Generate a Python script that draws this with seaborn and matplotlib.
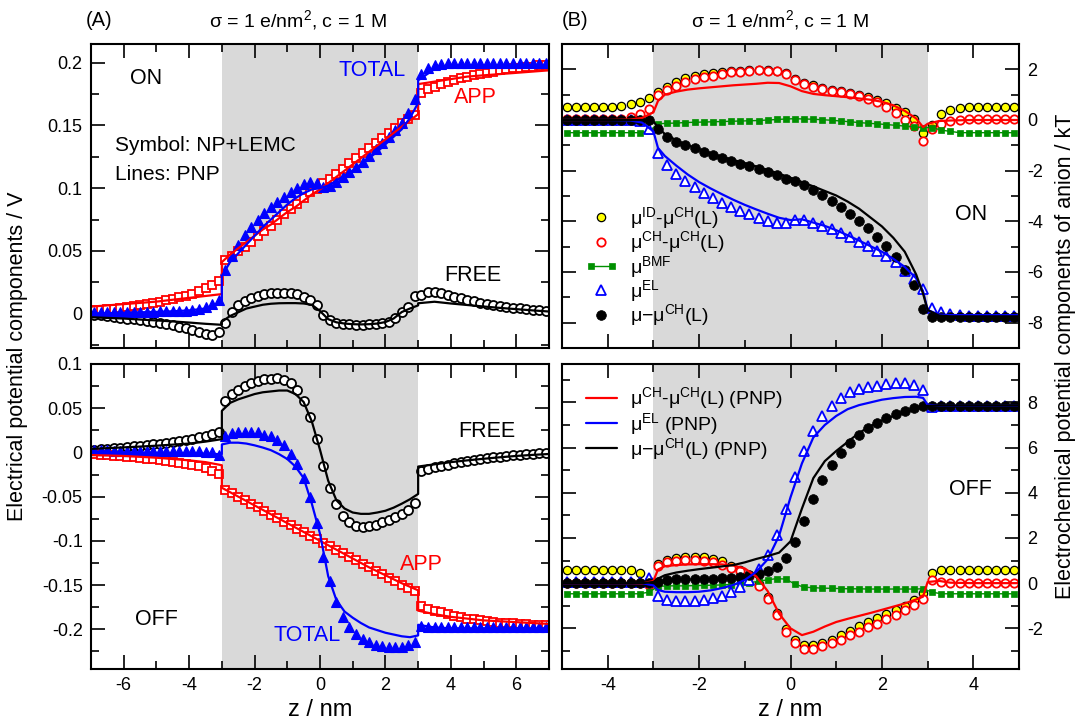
import matplotlib

matplotlib.use("Agg")
import matplotlib.pyplot as plt
import numpy as np
import seaborn as sns
from matplotlib.legend_handler import HandlerLine2D
from matplotlib.ticker import FuncFormatter, MultipleLocator

# --- data: panel A (electrical potential, V) ---------------------------
ZA_MARK = np.round(np.arange(-6.9, 7.0, 0.2), 1)
ZA_LINE = [-7, -6.5, -6, -5.5, -5, -4.5, -4, -3.5, -3,
           -3, -2.75, -2.5, -2.25, -2, -1.75, -1.5, -1.25, -1, -0.75, -0.5, -0.25, 0,
           0.25, 0.5, 0.75, 1, 1.25, 1.5, 1.75, 2, 2.25, 2.5, 2.75, 3,
           3, 3.5, 4, 4.5, 5, 5.5, 6, 6.5, 7]

A_ON_APP_SYM = [0.0025, 0.003, 0.0035, 0.004, 0.0048, 0.0055, 0.0062, 0.007, 0.0078, 0.0086,
                0.0095, 0.0105, 0.0115, 0.0128, 0.014, 0.0158, 0.0178, 0.0205, 0.0225, 0.026,
                0.043, 0.046, 0.050, 0.053, 0.057, 0.062, 0.066, 0.070, 0.075, 0.079,
                0.083, 0.087, 0.092, 0.097, 0.099, 0.104, 0.107, 0.111, 0.115, 0.120,
                0.124, 0.128, 0.132, 0.136, 0.140, 0.144, 0.148, 0.152, 0.155, 0.158,
                0.176, 0.179, 0.181, 0.183, 0.185, 0.186, 0.188, 0.189, 0.190, 0.191,
                0.192, 0.193, 0.194, 0.195, 0.1955, 0.196, 0.197, 0.197, 0.198, 0.198]
A_ON_TOT_SYM = [0.0012, 0.0012, 0.0013, 0.0013, 0.0014, 0.0014, 0.0015, 0.0015, 0.0016, 0.0016,
                0.0017, 0.0018, 0.0019, 0.002, 0.0022, 0.0027, 0.0035, 0.005, 0.0072, 0.011,
                0.035, 0.046, 0.055, 0.063, 0.069, 0.075, 0.080, 0.085, 0.089, 0.093,
                0.097, 0.100, 0.103, 0.105, 0.104, 0.101, 0.102, 0.105, 0.109, 0.113,
                0.117, 0.121, 0.126, 0.131, 0.136, 0.141, 0.146, 0.152, 0.160, 0.171,
                0.191, 0.196, 0.198, 0.199, 0.2, 0.2, 0.2, 0.2, 0.2, 0.2,
                0.2, 0.2, 0.2, 0.2, 0.2, 0.2, 0.2, 0.2, 0.2, 0.2]
A_ON_FREE_SYM = [-0.001, -0.0015, -0.002, -0.0027, -0.0033, -0.004, -0.0047, -0.0055, -0.0062, -0.007,
                 -0.0078, -0.0087, -0.0095, -0.0105, -0.0115, -0.013, -0.0145, -0.016, -0.0168, -0.0145,
                 -0.0075, 0.001, 0.0067, 0.010, 0.0125, 0.0143, 0.0155, 0.016, 0.0165, 0.0165,
                 0.016, 0.0152, 0.0135, 0.011, 0.007, -0.001, -0.005, -0.0072, -0.0082, -0.0086,
                 -0.0088, -0.0088, -0.0087, -0.0085, -0.0078, -0.0065, -0.0035, 0.001, 0.0056, 0.0136,
                 0.0145, 0.0172, 0.0175, 0.0165, 0.015, 0.0135, 0.012, 0.0108, 0.0097, 0.0087,
                 0.0078, 0.007, 0.0062, 0.0055, 0.0048, 0.0042, 0.0036, 0.003, 0.0025, 0.002]
A_ON_APP_PNP = [0.0055, 0.0065, 0.0075, 0.0085, 0.0095, 0.011, 0.0125, 0.014, 0.0155,
                0.041, 0.047, 0.052, 0.057, 0.062, 0.067, 0.071, 0.076, 0.081, 0.085, 0.090, 0.095, 0.099,
                0.104, 0.109, 0.114, 0.119, 0.124, 0.129, 0.134, 0.139, 0.144, 0.149, 0.154, 0.159,
                0.183, 0.185, 0.187, 0.189, 0.190, 0.191, 0.192, 0.193, 0.194]
A_ON_TOT_PNP = [0.0, 0.0003, 0.0006, 0.001, 0.0013, 0.0018, 0.0025, 0.004, 0.009,
                0.030, 0.041, 0.048, 0.055, 0.062, 0.069, 0.075, 0.081, 0.087, 0.092, 0.096, 0.099, 0.100,
                0.102, 0.106, 0.110, 0.114, 0.119, 0.124, 0.129, 0.135, 0.141, 0.147, 0.156, 0.168,
                0.186, 0.195, 0.197, 0.198, 0.198, 0.198, 0.198, 0.198, 0.198]
A_ON_FREE_PNP = [-0.003, -0.0035, -0.004, -0.0048, -0.0055, -0.0063, -0.0072, -0.0082, -0.009,
                 -0.0065, -0.002, 0.001, 0.004, 0.0055, 0.007, 0.0078, 0.0082, 0.0083, 0.0083, 0.008, 0.007, 0.002,
                 -0.0045, -0.007, -0.008, -0.0085, -0.0087, -0.0085, -0.008, -0.0068, -0.004, 0.0012, 0.004, 0.0065,
                 0.0082, 0.0094, 0.008, 0.0068, 0.0056, 0.0045, 0.0035, 0.0025, 0.0016]

A_OFF_APP_SYM = [-0.002, -0.0027, -0.0033, -0.004, -0.0045, -0.005, -0.0057, -0.0064, -0.007, -0.0078,
                 -0.0086, -0.0095, -0.0104, -0.0115, -0.0127, -0.014, -0.0155, -0.0175, -0.0205, -0.024,
                 -0.042, -0.046, -0.050, -0.054, -0.058, -0.062, -0.066, -0.0705, -0.0745, -0.0785,
                 -0.0825, -0.0865, -0.0905, -0.0945, -0.098, -0.102, -0.106, -0.110, -0.114, -0.118,
                 -0.122, -0.126, -0.130, -0.134, -0.138, -0.1415, -0.1455, -0.1495, -0.153, -0.157,
                 -0.174, -0.177, -0.179, -0.181, -0.183, -0.185, -0.1865, -0.188, -0.189, -0.190,
                 -0.191, -0.192, -0.1925, -0.193, -0.1935, -0.194, -0.1945, -0.195, -0.195, -0.1955]
A_OFF_TOT_SYM = [0.0022, 0.0022, 0.0022, 0.0021, 0.0021, 0.0021, 0.002, 0.002, 0.002, 0.002,
                 0.0019, 0.0019, 0.0018, 0.0017, 0.0016, 0.0014, 0.0012, 0.0008, 0.0, -0.0025,
                 0.018, 0.0214, 0.023, 0.0233, 0.0233, 0.023, 0.020, 0.018, 0.0143, 0.0086,
                 -0.0015, -0.0128, -0.029, -0.051, -0.080, -0.118, -0.146, -0.169, -0.186, -0.197,
                 -0.2055, -0.2105, -0.215, -0.218, -0.2195, -0.2205, -0.2205, -0.22, -0.218, -0.214,
                 -0.196, -0.197, -0.197, -0.197, -0.197, -0.197, -0.197, -0.197, -0.197, -0.197,
                 -0.197, -0.197, -0.197, -0.197, -0.197, -0.197, -0.197, -0.197, -0.197, -0.197]
A_OFF_FREE_SYM = [0.003, 0.0035, 0.004, 0.0045, 0.005, 0.006, 0.0068, 0.0075, 0.008, 0.009,
                  0.010, 0.011, 0.012, 0.013, 0.014, 0.015, 0.017, 0.019, 0.021, 0.023,
                  0.0586, 0.066, 0.0707, 0.075, 0.078, 0.0808, 0.0827, 0.0834, 0.084, 0.082,
                  0.079, 0.0707, 0.0586, 0.0405, 0.015, -0.0157, -0.0402, -0.058, -0.0716, -0.0787,
                  -0.0829, -0.0844, -0.0836, -0.0817, -0.079, -0.076, -0.073, -0.0696, -0.0655, -0.0572,
                  -0.021, -0.019, -0.017, -0.0155, -0.014, -0.0125, -0.011, -0.0098, -0.0085, -0.0075,
                  -0.0065, -0.0055, -0.0047, -0.004, -0.0033, -0.0027, -0.002, -0.0015, -0.001, -0.0005]
A_OFF_APP_PNP = [-0.003, -0.0035, -0.004, -0.005, -0.006, -0.0075, -0.009, -0.011, -0.0145,
                 -0.040, -0.045, -0.050, -0.055, -0.060, -0.065, -0.070, -0.075, -0.080, -0.085, -0.090, -0.095, -0.100,
                 -0.105, -0.110, -0.115, -0.120, -0.125, -0.130, -0.1345, -0.139, -0.1435, -0.148, -0.152, -0.156,
                 -0.179, -0.183, -0.186, -0.188, -0.190, -0.191, -0.192, -0.193, -0.194]
A_OFF_TOT_PNP = [0.0, 0.0, 0.0, -0.0003, -0.0005, -0.0008, -0.001, -0.0015, -0.002,
                 0.009, 0.011, 0.011, 0.010, 0.008, 0.0055, 0.0025, -0.002, -0.0075, -0.016, -0.029, -0.058, -0.092,
                 -0.140, -0.167, -0.180, -0.187, -0.193, -0.198, -0.201, -0.204, -0.206, -0.208, -0.209, -0.207,
                 -0.195, -0.198, -0.199, -0.199, -0.199, -0.199, -0.199, -0.199, -0.199]
A_OFF_FREE_PNP = [0.004, 0.0048, 0.0057, 0.0066, 0.0076, 0.0088, 0.010, 0.0122, 0.015,
                  0.047, 0.056, 0.060, 0.063, 0.066, 0.068, 0.069, 0.070, 0.070, 0.066, 0.057, 0.035, 0.003,
                  -0.032, -0.054, -0.0635, -0.068, -0.0695, -0.0695, -0.068, -0.066, -0.0625, -0.058, -0.053, -0.047,
                  -0.016, -0.0135, -0.011, -0.009, -0.0072, -0.0055, -0.004, -0.0028, -0.0018]

# --- data: panel B (electrochemical potential of anion, kT) -------------
ZB_MARK = np.round(np.arange(-4.9, 5.0, 0.2), 1)
ZB_LINE = [-5, -4.5, -4, -3.5, -3.25, -3, -2.9,
           -2.75, -2.5, -2.25, -2, -1.75, -1.5, -1.25, -1, -0.75, -0.5, -0.25, 0,
           0.25, 0.5, 0.75, 1, 1.25, 1.5, 1.75, 2, 2.25, 2.5, 2.75,
           2.9, 3, 3.25, 3.5, 4, 4.5, 5]

B_ON_ID = [0.5, 0.5, 0.5, 0.5, 0.5, 0.5, 0.55, 0.62, 0.72, 0.85,
           1.12, 1.32, 1.49, 1.65, 1.75, 1.81, 1.85, 1.89, 1.92, 1.94,
           1.96, 1.97, 1.96, 1.94, 1.84, 1.6, 1.46, 1.37, 1.27, 1.2,
           1.15, 1.06, 1.0, 0.9, 0.79, 0.66, 0.49, 0.33, 0.04, -0.53,
           -0.2, 0.24, 0.4, 0.47, 0.5, 0.5, 0.5, 0.5, 0.5, 0.5]
B_ON_CH = [0.02, 0.02, 0.02, 0.02, 0.02, 0.02, 0.05, 0.13, 0.24, 0.45,
           0.97, 1.19, 1.36, 1.49, 1.61, 1.68, 1.75, 1.81, 1.88, 1.9,
           1.94, 1.96, 1.94, 1.92, 1.81, 1.56, 1.42, 1.32, 1.22, 1.15,
           1.1, 1.02, 0.93, 0.83, 0.73, 0.53, 0.29, 0.01, -0.25, -0.82,
           -0.37, -0.16, -0.04, 0.0, 0.02, 0.02, 0.02, 0.02, 0.02, 0.02]
B_ON_BMF = [-0.5, -0.5, -0.5, -0.5, -0.5, -0.5, -0.5, -0.5, -0.5, -0.45,
            -0.15, -0.13, -0.12, -0.1, -0.09, -0.08, -0.07, -0.06, -0.05, -0.04,
            -0.03, -0.02, 0.0, 0.02, 0.04, 0.05, 0.04, 0.03, 0.01, -0.01,
            -0.04, -0.07, -0.1, -0.13, -0.15, -0.18, -0.21, -0.24, -0.27, -0.3,
            -0.3, -0.4, -0.45, -0.5, -0.5, -0.5, -0.5, -0.5, -0.5, -0.5]
B_ON_EL = [0.0, 0.0, 0.0, 0.0, 0.0, 0.0, 0.0, 0.0, -0.03, -0.37,
           -1.32, -1.79, -2.12, -2.42, -2.65, -2.87, -3.07, -3.27, -3.44, -3.6,
           -3.73, -3.86, -3.97, -4.07, -4.07, -3.93, -3.94, -4.06, -4.17, -4.3,
           -4.46, -4.63, -4.8, -4.99, -5.16, -5.36, -5.62, -5.95, -6.28, -6.68,
           -7.41, -7.57, -7.66, -7.7, -7.72, -7.73, -7.74, -7.75, -7.75, -7.75]
B_ON_TOT = [0.0, 0.0, 0.0, 0.0, 0.0, 0.0, 0.0, 0.0, 0.0, 0.0,
            -0.37, -0.66, -0.86, -0.99, -1.12, -1.26, -1.39, -1.5, -1.61, -1.72,
            -1.83, -1.92, -2.05, -2.18, -2.32, -2.42, -2.58, -2.78, -2.98, -3.2,
            -3.44, -3.7, -3.99, -4.26, -4.6, -4.96, -5.42, -5.93, -6.52, -7.48,
            -7.78, -7.78, -7.78, -7.78, -7.78, -7.78, -7.78, -7.78, -7.78, -7.78]
B_ON_CH_PNP = [0.0, 0.0, 0.0, 0.02, 0.08, 0.3, 0.75,
               1.0, 1.12, 1.2, 1.25, 1.29, 1.33, 1.37, 1.4, 1.43, 1.47, 1.46, 1.33,
               1.14, 1.03, 0.98, 0.94, 0.9, 0.85, 0.8, 0.72, 0.58, 0.36, 0.06,
               -0.28, -0.15, -0.04, -0.02, 0.0, 0.0, 0.0]
B_ON_EL_PNP = [0.0, 0.0, 0.0, -0.02, -0.1, -0.45, -1.1,
               -1.42, -1.8, -2.15, -2.45, -2.7, -2.93, -3.15, -3.35, -3.53, -3.7, -3.86, -3.95,
               -3.92, -4.05, -4.18, -4.35, -4.55, -4.76, -4.98, -5.2, -5.48, -5.8, -6.25,
               -6.75, -7.5, -7.68, -7.7, -7.7, -7.7, -7.7]
B_ON_TOT_PNP = [0.0, 0.0, 0.0, 0.0, 0.0, -0.05, -0.3,
                -0.55, -0.8, -1.0, -1.15, -1.3, -1.45, -1.58, -1.7, -1.83, -1.97, -2.12, -2.28,
                -2.45, -2.62, -2.8, -2.98, -3.22, -3.5, -3.85, -4.2, -4.65, -5.2, -6.1,
                -6.85, -7.5, -7.72, -7.75, -7.75, -7.75, -7.75]

B_OFF_ID = [0.56, 0.56, 0.56, 0.56, 0.56, 0.56, 0.56, 0.56, 0.44, 0.1,
            0.84, 1.03, 1.13, 1.17, 1.17, 1.15, 1.07, 0.96, 0.78, 0.6,
            0.3, -0.05, -0.6, -1.3, -2.05, -2.5, -2.75, -2.75, -2.65, -2.5,
            -2.3, -2.1, -1.9, -1.72, -1.55, -1.38, -1.2, -1.0, -0.75, -0.45,
            0.45, 0.56, 0.56, 0.56, 0.56, 0.56, 0.56, 0.56, 0.56, 0.56]
B_OFF_CH = [0.0, 0.0, 0.0, 0.0, 0.0, 0.0, 0.0, 0.0, 0.0, -0.1,
            0.74, 0.93, 1.0, 1.03, 1.03, 1.0, 0.93, 0.81, 0.69, 0.55,
            0.3, -0.12, -0.7, -1.4, -2.15, -2.65, -2.9, -2.9, -2.8, -2.65,
            -2.5, -2.3, -2.15, -1.95, -1.8, -1.6, -1.4, -1.2, -0.95, -0.7,
            0.15, 0.05, 0.0, 0.0, 0.0, 0.0, 0.0, 0.0, 0.0, 0.0]
B_OFF_BMF = [-0.47, -0.47, -0.47, -0.47, -0.47, -0.47, -0.47, -0.47, -0.47, -0.4,
             -0.15, -0.12, -0.12, -0.12, -0.11, -0.1, -0.09, -0.08, -0.06, -0.03,
             0.02, 0.08, 0.15, 0.2, 0.18, -0.05, -0.18, -0.2, -0.22, -0.23,
             -0.24, -0.25, -0.25, -0.26, -0.26, -0.26, -0.26, -0.26, -0.26, -0.25,
             -0.4, -0.47, -0.47, -0.47, -0.47, -0.47, -0.47, -0.47, -0.47, -0.47]
B_OFF_EL = [0.07, 0.07, 0.07, 0.07, 0.07, 0.07, 0.07, 0.07, 0.07, 0.22,
            -0.56, -0.74, -0.78, -0.81, -0.78, -0.74, -0.66, -0.56, -0.41, -0.19,
            0.12, 0.62, 1.26, 2.14, 3.3, 4.72, 5.86, 6.75, 7.4, 7.85,
            8.19, 8.44, 8.58, 8.66, 8.73, 8.8, 8.85, 8.85, 8.78, 8.55,
            7.79, 7.85, 7.85, 7.85, 7.85, 7.85, 7.85, 7.85, 7.85, 7.85]
B_OFF_TOT = [0.0, 0.0, 0.0, 0.0, 0.0, 0.0, 0.0, 0.0, 0.0, 0.0,
             0.07, 0.15, 0.18, 0.19, 0.19, 0.19, 0.2, 0.22, 0.25, 0.29,
             0.34, 0.41, 0.52, 0.71, 1.11, 1.82, 2.77, 3.71, 4.57, 5.24,
             5.78, 6.22, 6.56, 6.86, 7.08, 7.3, 7.47, 7.62, 7.77, 7.86,
             7.86, 7.86, 7.86, 7.86, 7.86, 7.86, 7.86, 7.86, 7.86, 7.86]
B_OFF_CH_PNP = [0.0, 0.0, 0.0, 0.0, -0.02, 0.1, 0.6,
                0.75, 0.8, 0.83, 0.84, 0.84, 0.83, 0.78, 0.65, 0.3, -0.35, -1.35, -2.0,
                -2.3, -2.15, -1.92, -1.72, -1.58, -1.45, -1.32, -1.18, -1.04, -0.9, -0.72,
                -0.6, 0.05, 0.1, 0.02, 0.0, 0.0, 0.0]
B_OFF_EL_PNP = [0.0, 0.0, 0.0, 0.0, 0.0, -0.1, -0.3,
                -0.38, -0.4, -0.4, -0.38, -0.32, -0.22, -0.08, 0.14, 0.5, 1.05, 2.1, 3.8,
                5.3, 6.45, 7.0, 7.4, 7.7, 7.88, 8.0, 8.12, 8.19, 8.24, 8.25,
                8.2, 7.9, 7.85, 7.85, 7.85, 7.85, 7.85]
B_OFF_TOT_PNP = [0.0, 0.0, 0.0, 0.0, 0.0, 0.05, 0.2,
                 0.35, 0.47, 0.55, 0.62, 0.68, 0.74, 0.8, 0.92, 1.07, 1.2, 1.35, 1.85,
                 3.3, 4.65, 5.4, 5.85, 6.25, 6.65, 6.95, 7.2, 7.4, 7.57, 7.72,
                 7.8, 7.85, 7.86, 7.86, 7.86, 7.86, 7.86]

LAB_ID = "μ$^{ID}$-μ$^{CH}$(L)"
LAB_CH = "μ$^{CH}$-μ$^{CH}$(L)"
LAB_BMF = "μ$^{BMF}$"
LAB_EL = "μ$^{EL}$"
LAB_TOT = "μ−μ$^{CH}$(L)"
TITLE = "σ = 1 e/nm$^{2}$, c = 1 M"

RED, BLUE, BLACK, GREEN, YELLOW = "#ff0000", "#0000ff", "#000000", "#009000", "#ffff00"
SHADE = "#d9d9d9"

sns.set_theme(style="ticks")
plt.rcParams["font.family"] = ["Liberation Sans", "DejaVu Sans"]
plt.rcParams["mathtext.fontset"] = "custom"
plt.rcParams["mathtext.rm"] = "Liberation Sans"
plt.rcParams["mathtext.it"] = "Liberation Sans:italic"
plt.rcParams["mathtext.default"] = "regular"
plt.rcParams["axes.unicode_minus"] = False
for key in ["text.color", "axes.labelcolor", "axes.edgecolor", "xtick.color", "ytick.color"]:
    plt.rcParams[key] = "black"

W, H = 1087, 728
fig = plt.figure(figsize=(W / 100, H / 100), dpi=100)


def box(left, top, right, bottom):
    return [left / W, 1 - bottom / H, (right - left) / W, (bottom - top) / H]


def draw(ax, x, y, **kw):
    if len(x) != len(y):
        raise ValueError(f"length mismatch: {len(x)} vs {len(y)} ({y[:3]})")
    sns.lineplot(x=list(x), y=list(y), estimator=None, sort=False, ax=ax, **kw)
    return ax.lines[-1]


def sym(ax, x, y, marker, color, ms, fill="white", mew=1.3, mec=None):
    return draw(ax, x, y, color=color, marker=marker, linestyle="", markersize=ms,
                markerfacecolor=fill, markeredgecolor=mec or color, markeredgewidth=mew)


def line(ax, x, y, color, lw=1.6):
    return draw(ax, x, y, color=color, linewidth=lw)


def fmt(v, pos):
    v = round(v, 4)
    return "0" if v == 0 else f"{v:g}"


def style(ax, xlim, xmaj, ylim, ymaj, ymin, showx):
    ax.axvspan(-3, 3, color=SHADE, lw=0, zorder=0)
    ax.set_xlim(*xlim)
    ax.set_ylim(*ylim)
    ax.xaxis.set_major_locator(MultipleLocator(xmaj))
    ax.xaxis.set_minor_locator(MultipleLocator(1))
    ax.yaxis.set_major_locator(MultipleLocator(ymaj))
    ax.yaxis.set_minor_locator(MultipleLocator(ymin))
    ax.xaxis.set_major_formatter(FuncFormatter(fmt))
    ax.yaxis.set_major_formatter(FuncFormatter(fmt))
    ax.tick_params(which="both", direction="in", top=True, right=True, width=1.2,
                   labelsize=13, pad=6, labelbottom=showx)
    ax.tick_params(which="major", length=10)
    ax.tick_params(which="minor", length=5.5)
    for s in ax.spines.values():
        s.set_linewidth(1.5)
    ax.set_xlabel("z / nm" if showx else "", fontsize=17, labelpad=3)
    ax.set_ylabel("")


axA1 = fig.add_axes(box(91, 44, 549, 348))
axA2 = fig.add_axes(box(91, 364, 549, 669))
axB1 = fig.add_axes(box(562, 44, 1019, 348))
axB2 = fig.add_axes(box(562, 364, 1019, 669))

# --- panel A -------------------------------------------------------------
for ax, app_s, tot_s, free_s, app_l, tot_l, free_l in [
    (axA1, A_ON_APP_SYM, A_ON_TOT_SYM, A_ON_FREE_SYM, A_ON_APP_PNP, A_ON_TOT_PNP, A_ON_FREE_PNP),
    (axA2, A_OFF_APP_SYM, A_OFF_TOT_SYM, A_OFF_FREE_SYM, A_OFF_APP_PNP, A_OFF_TOT_PNP, A_OFF_FREE_PNP),
]:
    sym(ax, ZA_MARK, free_s, "o", BLACK, 6.5)
    sym(ax, ZA_MARK, app_s, "s", RED, 6)
    sym(ax, ZA_MARK, tot_s, "^", BLUE, 7.5, fill=BLUE, mew=0.8)
    line(ax, ZA_LINE, free_l, BLACK)
    line(ax, ZA_LINE, app_l, RED)
    line(ax, ZA_LINE, tot_l, BLUE)

style(axA1, (-7, 7), 2, (-0.0275, 0.215), 0.05, 0.025, False)
style(axA2, (-7, 7), 2, (-0.245, 0.1), 0.05, 0.025, True)

txt = dict(ha="center", va="center", fontsize=15.5)
axA1.text(-5.33, 0.1876, "ON", color=BLACK, **txt)
axA1.text(1.6, 0.1936, "TOTAL", color=BLUE, **txt)
axA1.text(4.76, 0.1725, "APP", color=RED, **txt)
axA1.text(4.66, 0.0307, "FREE", color=BLACK, **txt)
axA1.text(-6.27, 0.134, "Symbol: NP+LEMC", ha="left", va="center", fontsize=15)
axA1.text(-6.27, 0.111, "Lines: PNP", ha="left", va="center", fontsize=15)
axA2.text(5.1, 0.024, "FREE", color=BLACK, **txt)
axA2.text(3.09, -0.127, "APP", color=RED, **txt)
axA2.text(-5.0, -0.189, "OFF", color=BLACK, **txt)
axA2.text(-0.38, -0.207, "TOTAL", color=BLUE, **txt)

# --- panel B -------------------------------------------------------------
panels_b = [
    (axB1, (B_ON_ID, B_ON_CH, B_ON_BMF, B_ON_EL, B_ON_TOT), (B_ON_CH_PNP, B_ON_EL_PNP, B_ON_TOT_PNP)),
    (axB2, (B_OFF_ID, B_OFF_CH, B_OFF_BMF, B_OFF_EL, B_OFF_TOT), (B_OFF_CH_PNP, B_OFF_EL_PNP, B_OFF_TOT_PNP)),
]
handles = []
for ax, (d_id, d_ch, d_bmf, d_el, d_tot), (l_ch, l_el, l_tot) in panels_b:
    h_id = sym(ax, ZB_MARK, d_id, "o", YELLOW, 6, fill=YELLOW, mew=0.9, mec=BLACK)
    h_ch = sym(ax, ZB_MARK, d_ch, "o", RED, 6)
    h_bmf = draw(ax, ZB_MARK, d_bmf, color=GREEN, linewidth=1.0, marker="s", markersize=4,
                 markerfacecolor=GREEN, markeredgecolor=GREEN, markeredgewidth=0.5)
    h_el = sym(ax, ZB_MARK, d_el, "^", BLUE, 6.5)
    h_tot = sym(ax, ZB_MARK, d_tot, "o", BLACK, 7, fill=BLACK, mew=0.5)
    p_ch = line(ax, ZB_LINE, l_ch, RED)
    p_el = line(ax, ZB_LINE, l_el, BLUE)
    p_tot = line(ax, ZB_LINE, l_tot, BLACK)
    handles.append(([h_id, h_ch, h_bmf, h_el, h_tot], [p_ch, p_el, p_tot]))

for ax, ylim in [(axB1, (-9, 3)), (axB2, (-3.8, 9.7))]:
    style(ax, (-5, 5), 2, ylim, 2, 1, ax is axB2)
    ax.tick_params(which="both", labelleft=False, labelright=True)

axB1.text(3.96, -3.73, "ON", **txt)
axB2.text(3.93, 4.13, "OFF", **txt)

sym_handles = handles[0][0]
axB1.legend(sym_handles, [LAB_ID, LAB_CH, LAB_BMF, LAB_EL, LAB_TOT],
            loc="upper left", bbox_to_anchor=(0.05, 0.47), frameon=False, fontsize=14,
            numpoints=1, handlelength=1.7, handletextpad=0.6, labelspacing=-0.08,
            borderpad=0, borderaxespad=0,
            handler_map={sym_handles[2]: HandlerLine2D(numpoints=2)})
axB2.legend(handles[1][1], [LAB_CH + " (PNP)", LAB_EL + " (PNP)", LAB_TOT + " (PNP)"],
            loc="upper left", bbox_to_anchor=(0.052, 0.93), frameon=False, fontsize=14,
            handlelength=1.6, handletextpad=0.7, labelspacing=-0.03,
            borderpad=0, borderaxespad=0)

# --- figure texts --------------------------------------------------------
fig.text(86 / W, 1 - 20 / H, "(A)", ha="left", va="center", fontsize=14.5)
fig.text(298 / W, 1 - 20 / H, TITLE, ha="center", va="center", fontsize=14)
fig.text(562 / W, 1 - 20 / H, "(B)", ha="left", va="center", fontsize=14.5)
fig.text(780 / W, 1 - 20 / H, TITLE, ha="center", va="center", fontsize=14)
fig.text(18 / W, 1 - 356 / H, "Electrical potential components / V",
         rotation=90, ha="center", va="center", fontsize=15.5)
fig.text(1066 / W, 1 - 356 / H, "Electrochemical potential components of anion / kT",
         rotation=90, ha="center", va="center", fontsize=15.5)

fig.savefig("out.png", dpi=100)
